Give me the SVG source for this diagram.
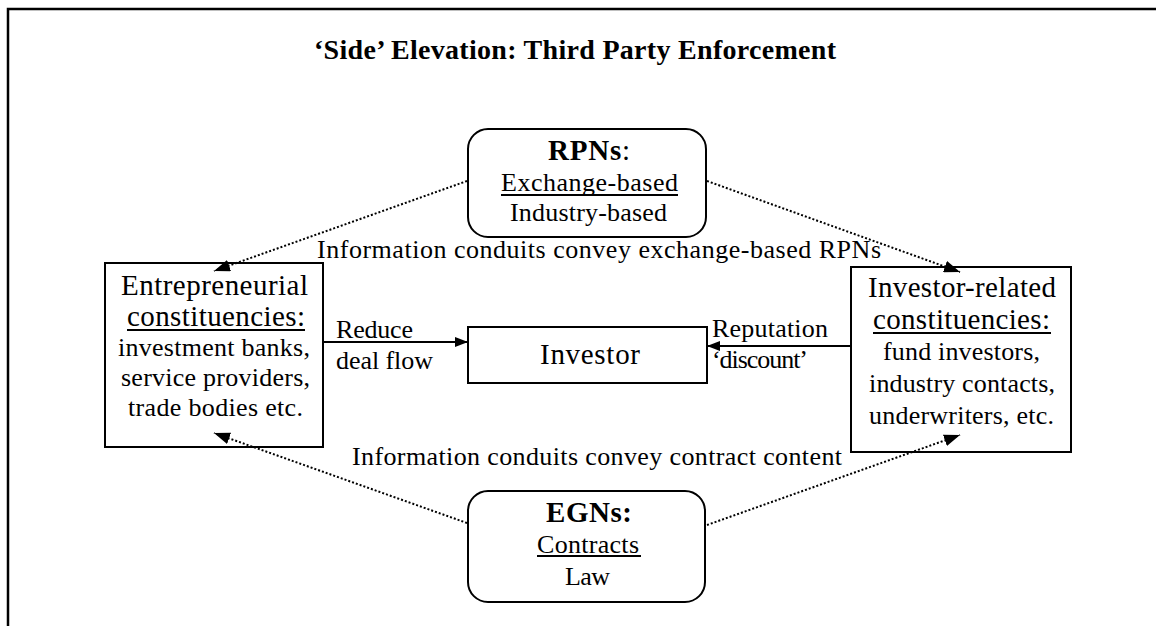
<svg xmlns="http://www.w3.org/2000/svg" width="1156" height="626" viewBox="0 0 1156 626">
  <style>
    text { font-family: "Liberation Serif", "Times New Roman", serif; fill: #000; }
    .title { font-size: 28px; font-weight: bold; }
    .big { font-size: 29px; }
    .txt { font-size: 26px; }
    .b { font-weight: bold; }
    .box { fill: #fff; stroke: #000; stroke-width: 2; }
    .ul { stroke: #000; stroke-width: 2.2; }
    .frame { stroke: #000; stroke-width: 2.5; fill: none; }
    .solid { stroke: #000; stroke-width: 2; fill: none; }
    .dotted { stroke: #000; stroke-width: 2; stroke-dasharray: 2 2; fill: none; }
  </style>
  <defs>
    <!-- larger head for the dotted information-conduit links -->
    <marker id="head-lg" viewBox="0 0 16 12" refX="16" refY="6" markerWidth="16" markerHeight="12" markerUnits="userSpaceOnUse" orient="auto">
      <path d="M0,0 L16,6 L0,12 z" fill="#000"/>
    </marker>
    <!-- head for the solid pressure links -->
    <marker id="head" viewBox="0 0 13 10" refX="13" refY="5" markerWidth="13" markerHeight="10" markerUnits="userSpaceOnUse" orient="auto">
      <path d="M0,0 L13,5 L0,10 z" fill="#000"/>
    </marker>
  </defs>

  <rect width="1156" height="626" fill="#fff"/>

  <!-- page frame: top rule and left rule -->
  <path class="frame" d="M8,626 L8,9 L1156,9"/>

  <text class="title" x="314" y="59" textLength="522">‘Side’ Elevation: Third Party Enforcement</text>

  <!-- RPNs -->
  <g id="rpns">
    <rect class="box" x="468" y="129" width="238" height="108" rx="20" ry="20"/>
    <text class="big" x="548" y="160" textLength="82"><tspan class="b">RPNs</tspan>:</text>
    <text class="txt" x="501" y="191" textLength="177">Exchange-based</text>
    <line class="ul" x1="501" y1="195" x2="678" y2="195"/>
    <text class="txt" x="510" y="221" textLength="157">Industry-based</text>
  </g>

  <!-- Entrepreneurial constituencies -->
  <g id="entrepreneurial">
    <rect class="box" x="105" y="263" width="218" height="184"/>
    <text class="big" x="121" y="295" textLength="187">Entrepreneurial</text>
    <text class="big" x="127" y="326" textLength="178">constituencies:</text>
    <line class="ul" x1="127" y1="330" x2="305" y2="330"/>
    <text class="txt" x="118" y="356" textLength="192">investment banks,</text>
    <text class="txt" x="121" y="386" textLength="189">service providers,</text>
    <text class="txt" x="128" y="416" textLength="175">trade bodies etc.</text>
  </g>

  <!-- Investor -->
  <g id="investor">
    <rect class="box" x="468" y="327" width="239" height="56"/>
    <text class="big" x="540" y="364" textLength="100">Investor</text>
  </g>

  <!-- Investor-related constituencies -->
  <g id="investor-related">
    <rect class="box" x="851" y="267" width="220" height="185"/>
    <text class="big" x="868" y="297" textLength="188">Investor-related</text>
    <text class="big" x="873" y="329" textLength="177">constituencies:</text>
    <line class="ul" x1="873" y1="333" x2="1051" y2="333"/>
    <text class="txt" x="883" y="360" textLength="157">fund investors,</text>
    <text class="txt" x="869" y="392" textLength="186">industry contacts,</text>
    <text class="txt" x="869" y="424" textLength="185">underwriters, etc.</text>
  </g>

  <!-- EGNs -->
  <g id="egns">
    <rect class="box" x="468" y="491" width="237" height="111" rx="20" ry="20"/>
    <text class="big b" x="546" y="522" textLength="86">EGNs:</text>
    <text class="txt" x="537" y="553" textLength="102">Contracts</text>
    <line class="ul" x1="537" y1="556" x2="641" y2="556"/>
    <text class="txt" x="565" y="585" textLength="45">Law</text>
  </g>

  <!-- connectors -->
  <g id="connectors">
    <line class="dotted" x1="467" y1="181" x2="214" y2="271" marker-end="url(#head-lg)"/>
    <line class="dotted" x1="707" y1="181" x2="960" y2="272" marker-end="url(#head-lg)"/>
    <line class="dotted" x1="467" y1="523" x2="214" y2="433" marker-end="url(#head-lg)"/>
    <line class="dotted" x1="707" y1="525" x2="960" y2="435" marker-end="url(#head-lg)"/>
    <line class="solid" x1="323" y1="342" x2="468" y2="342" marker-end="url(#head)"/>
    <line class="solid" x1="851" y1="346" x2="707" y2="346" marker-end="url(#head)"/>
    <text class="txt" x="317" y="258" textLength="564">Information conduits convey exchange-based RPNs</text>
    <text class="txt" x="352" y="465" textLength="490">Information conduits convey contract content</text>
    <text class="txt" x="336" y="338" textLength="77">Reduce</text>
    <text class="txt" x="336" y="369" textLength="97">deal flow</text>
    <text class="txt" x="712" y="337" textLength="116">Reputation</text>
    <text class="txt" x="712" y="368" textLength="96">‘discount’</text>
  </g>
</svg>
